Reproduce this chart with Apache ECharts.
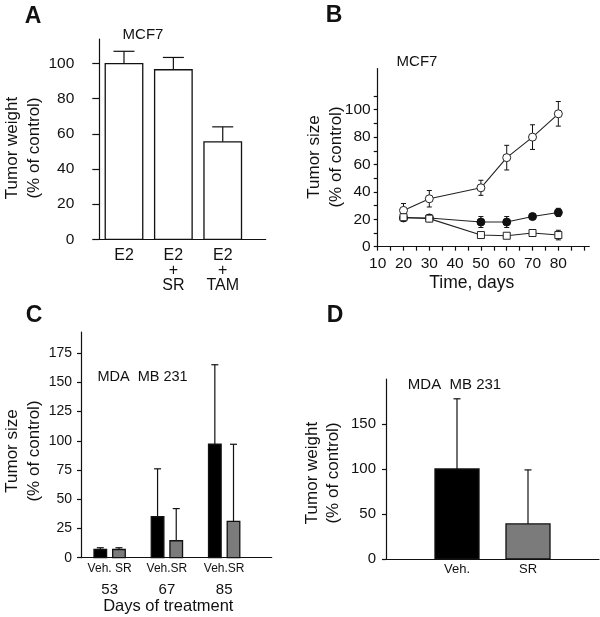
<!DOCTYPE html>
<html>
<head>
<meta charset="utf-8">
<script src="https://cdn.jsdelivr.net/npm/echarts@6/dist/echarts.min.js"></script>
<style>
html, body { margin: 0; padding: 0; background: #fff; }
#main { width: 600px; height: 617px; }
</style>
</head>
<body>
<div id="main"></div>
<script>
// A - MCF7 tumor weight
var aCats = ['E2', 'E2\n+\nSR', 'E2\n+\nTAM'];
var aWeight = [100, 96.5, 55.5];
var aErr = [7, 7, 8.5];
var aYTicks = [0, 20, 40, 60, 80, 100];

// B - MCF7 tumor size vs time
var bDays = [20, 30, 50, 60, 70, 80];
var bOpen = [26.5, 35, 43, 65, 80, 97];
var bOpenErr = [5, 6, 5.5, 9, 9, 9];
var bFilled = [21, 21, 18, 18, 22, 25];
var bFilledErr = [0, 0, 4, 4, 0, 3];
var bSquare = [21.5, 20.5, 8.5, 8, 10, 8.5];
var bSquareErr = [0, 2, 0, 0, 0, 3.5];
var bYTicks = [0, 10, 20, 30, 40, 50, 60, 70, 80, 90, 100, 110];
var bYLabels = [0, 20, 40, 60, 80, 100];
var bXTicks = [10, 15, 20, 25, 30, 35, 40, 45, 50, 55, 60, 65, 70, 75, 80, 85, 90];
var bXLabels = [10, 20, 30, 40, 50, 60, 70, 80];

// C - MDA MB 231 tumor size
var cDays = ['53', '67', '85'];
var cGroup = ['Veh. SR', 'Veh.SR', 'Veh.SR'];
var cVeh = [7, 35, 97];
var cVehErr = [1.5, 41, 68];
var cSR = [7, 14.5, 31];
var cSRErr = [1.5, 27.5, 66];
var cYTicks = [0, 25, 50, 75, 100, 125, 150, 175];

// D - MDA MB 231 tumor weight
var dCats = ['Veh.', 'SR'];
var dWeight = [100, 39];
var dErr = [78, 60];
var dYTicks = [0, 50, 100, 150];

var FONT = 'Liberation Sans, Arial, sans-serif';
var INK = '#111';

function barRender(widthFrac, offsetFrac, fill, capPx) {
    return function (params, api) {
        var band = api.size([1, 0])[0];
        var x = api.value(0), v = api.value(1), e = api.value(2);
        var p0 = api.coord([x, 0]);
        var cx = p0[0] + offsetFrac * band;
        var top = api.coord([x, v])[1];
        var errTop = api.coord([x, v + e])[1];
        var w = widthFrac * band;
        return {
            type: 'group',
            children: [
                { type: 'line', shape: { x1: cx, y1: top, x2: cx, y2: errTop }, style: { stroke: INK, lineWidth: 1.2 } },
                { type: 'line', shape: { x1: cx - capPx / 2, y1: errTop, x2: cx + capPx / 2, y2: errTop }, style: { stroke: INK, lineWidth: 1.2 } },
                { type: 'rect', shape: { x: cx - w / 2, y: top, width: w, height: p0[1] - top }, style: { fill: fill, stroke: INK, lineWidth: 1.3 } }
            ]
        };
    };
}

function errRender(params, api) {
    var x = api.value(0), v = api.value(1), e = api.value(2);
    var lo = api.coord([x, v - e]), hi = api.coord([x, v + e]);
    var c = 5;
    return {
        type: 'group',
        children: [
            { type: 'line', shape: { x1: lo[0], y1: lo[1], x2: hi[0], y2: hi[1] }, style: { stroke: INK, lineWidth: 1 } },
            { type: 'line', shape: { x1: lo[0] - c / 2, y1: lo[1], x2: lo[0] + c / 2, y2: lo[1] }, style: { stroke: INK, lineWidth: 1 } },
            { type: 'line', shape: { x1: hi[0] - c / 2, y1: hi[1], x2: hi[0] + c / 2, y2: hi[1] }, style: { stroke: INK, lineWidth: 1 } }
        ]
    };
}

function yAxisOf(grid, max, ticks, labels, tickLen, margin, size) {
    return {
        type: 'value', gridIndex: grid, min: 0, max: max,
        axisLine: { show: true, lineStyle: { color: INK, width: 1.2 } },
        axisTick: { show: true, length: tickLen, customValues: ticks, lineStyle: { color: INK, width: 1.2 } },
        axisLabel: { customValues: labels, margin: margin, color: INK, fontSize: size, fontFamily: FONT },
        splitLine: { show: false }
    };
}

function withErr(xs, ys, es) {
    var out = [];
    for (var i = 0; i < xs.length; i++) {
        if (es[i] > 0) out.push([xs[i], ys[i], es[i]]);
    }
    return out;
}

function pairs(xs, ys) {
    return xs.map(function (x, i) { return [x, ys[i]]; });
}

function text(x, y, s, size, extra) {
    var el = {
        type: 'text', x: x, y: y,
        style: { text: s, font: size + 'px ' + FONT, fill: INK, textAlign: 'center', textVerticalAlign: 'middle' }
    };
    if (extra && extra.bold) el.style.font = 'bold ' + el.style.font;
    if (extra && extra.rotate) el.rotation = Math.PI / 2;
    return el;
}

var lineStyleB = { color: '#222', width: 1.1 };

var option = {
    animation: false,
    backgroundColor: '#fff',
    grid: [
        { left: 99.3, top: 39, width: 166.4, height: 200.3 },
        { left: 377.7, top: 68.6, width: 211.6, height: 178.1 },
        { left: 81, top: 332, width: 190.7, height: 225.7 },
        { left: 386, top: 379, width: 213, height: 180 }
    ],
    xAxis: [
        {
            type: 'value', gridIndex: 0, min: 0, max: 3.37,
            axisLine: { lineStyle: { color: INK, width: 1.2 } },
            axisTick: { show: false },
            axisLabel: {
                customValues: [0.5, 1.5, 2.5], margin: 9, color: INK, fontSize: 16, lineHeight: 15, fontFamily: FONT,
                formatter: function (v) { return aCats[Math.floor(v)]; }
            },
            splitLine: { show: false }
        },
        {
            type: 'value', gridIndex: 1, min: 10, max: 92,
            axisLine: { lineStyle: { color: INK, width: 1.2 } },
            axisTick: { length: 4, customValues: bXTicks, lineStyle: { color: INK, width: 1.2 } },
            axisLabel: { customValues: bXLabels, margin: 9, color: INK, fontSize: 15.5, fontFamily: FONT },
            splitLine: { show: false }
        },
        {
            type: 'value', gridIndex: 2, min: 0, max: 3.33, position: 'bottom',
            axisLine: { lineStyle: { color: INK, width: 1.2 } },
            axisTick: { show: false },
            axisLabel: {
                customValues: [0.5, 1.5, 2.5], margin: 5, color: INK, fontSize: 12, fontFamily: FONT,
                formatter: function (v) { return cGroup[Math.floor(v)]; }
            },
            splitLine: { show: false }
        },
        {
            type: 'value', gridIndex: 2, min: 0, max: 3.33, position: 'bottom', offset: 0,
            axisLine: { show: false }, axisTick: { show: false },
            axisLabel: {
                customValues: [0.5, 1.5, 2.5], margin: 25, color: INK, fontSize: 15, fontFamily: FONT,
                formatter: function (v) { return cDays[Math.floor(v)]; }
            },
            splitLine: { show: false }
        },
        {
            type: 'value', gridIndex: 3, min: 0, max: 3,
            axisLine: { lineStyle: { color: INK, width: 1.2 } },
            axisTick: { show: false },
            axisLabel: {
                customValues: [1, 2], margin: 4, color: INK, fontSize: 13, fontFamily: FONT,
                formatter: function (v) { return dCats[Math.round(v) - 1]; }
            },
            splitLine: { show: false }
        }
    ],
    yAxis: [
        yAxisOf(0, 114, aYTicks, aYTicks, 7, 25, 15.5),
        yAxisOf(1, 130, bYTicks, bYLabels, 4, 7, 15.5),
        yAxisOf(2, 193, cYTicks, cYTicks, 4, 9, 14),
        yAxisOf(3, 200, dYTicks, dYTicks, 4, 10, 15)
    ],
    series: [
        {
            type: 'custom', xAxisIndex: 0, yAxisIndex: 0,
            renderItem: barRender(0.76, 0, '#fff', 21),
            encode: { x: 0, y: 1 },
            data: aWeight.map(function (v, i) { return [i + 0.5, v, aErr[i]]; })
        },
        // B error bars first so markers sit on top
        { type: 'custom', xAxisIndex: 1, yAxisIndex: 1, renderItem: errRender, encode: { x: 0, y: 1 }, z: 1, data: withErr(bDays, bOpen, bOpenErr) },
        { type: 'custom', xAxisIndex: 1, yAxisIndex: 1, renderItem: errRender, encode: { x: 0, y: 1 }, z: 1, data: withErr(bDays, bFilled, bFilledErr) },
        { type: 'custom', xAxisIndex: 1, yAxisIndex: 1, renderItem: errRender, encode: { x: 0, y: 1 }, z: 1, data: withErr(bDays, bSquare, bSquareErr) },
        {
            type: 'line', xAxisIndex: 1, yAxisIndex: 1, z: 3, data: pairs(bDays, bOpen),
            symbol: 'circle', symbolSize: 8, lineStyle: lineStyleB,
            itemStyle: { color: '#fff', borderColor: '#222', borderWidth: 1 }
        },
        {
            type: 'line', xAxisIndex: 1, yAxisIndex: 1, z: 3, data: pairs(bDays, bFilled),
            symbol: 'circle', symbolSize: 8, lineStyle: lineStyleB,
            itemStyle: { color: '#111', borderColor: '#111', borderWidth: 1 }
        },
        {
            type: 'line', xAxisIndex: 1, yAxisIndex: 1, z: 4, data: pairs(bDays, bSquare),
            symbol: 'rect', symbolSize: 7, lineStyle: lineStyleB,
            itemStyle: { color: '#fff', borderColor: '#222', borderWidth: 1 }
        },
        {
            type: 'custom', xAxisIndex: 2, yAxisIndex: 2,
            renderItem: barRender(0.22, -0.163, '#000', 7),
            encode: { x: 0, y: 1 },
            data: cVeh.map(function (v, i) { return [i + 0.5, v, cVehErr[i]]; })
        },
        {
            type: 'custom', xAxisIndex: 2, yAxisIndex: 2,
            renderItem: barRender(0.22, 0.163, '#7b7b7b', 7),
            encode: { x: 0, y: 1 },
            data: cSR.map(function (v, i) { return [i + 0.5, v, cSRErr[i]]; })
        },
        {
            type: 'custom', xAxisIndex: 4, yAxisIndex: 3,
            renderItem: function (params, api) {
                var fill = params.dataIndex === 0 ? '#000' : '#7b7b7b';
                return barRender(0.62, 0, fill, 7)(params, api);
            },
            encode: { x: 0, y: 1 },
            data: dWeight.map(function (v, i) { return [i + 1, v, dErr[i]]; })
        }
    ],
    graphic: [
        text(33, 17, 'A', 23, { bold: true }),
        text(334, 16, 'B', 23, { bold: true }),
        text(34, 316, 'C', 23, { bold: true }),
        text(335, 316, 'D', 23, { bold: true }),
        text(143, 35, 'MCF7', 15),
        text(417, 62, 'MCF7', 15),
        text(142.5, 377, 'MDA  MB 231', 14.5),
        text(454.5, 385, 'MDA  MB 231', 15),
        text(12.5, 148, 'Tumor weight', 17, { rotate: true }),
        text(34, 148, '(% of control)', 17, { rotate: true }),
        text(314, 157, 'Tumor size', 17, { rotate: true }),
        text(336, 157, '(% of control)', 17, { rotate: true }),
        text(12.5, 451, 'Tumor size', 17, { rotate: true }),
        text(34, 451, '(% of control)', 17, { rotate: true }),
        text(312.5, 473, 'Tumor weight', 17, { rotate: true }),
        text(333.5, 473, '(% of control)', 17, { rotate: true }),
        text(471.7, 283, 'Time, days', 17.5),
        text(168.3, 606, 'Days of treatment', 16.5)
    ]
};

var chart = echarts.init(document.getElementById('main'));
chart.setOption(option);
</script>
</body>
</html>
